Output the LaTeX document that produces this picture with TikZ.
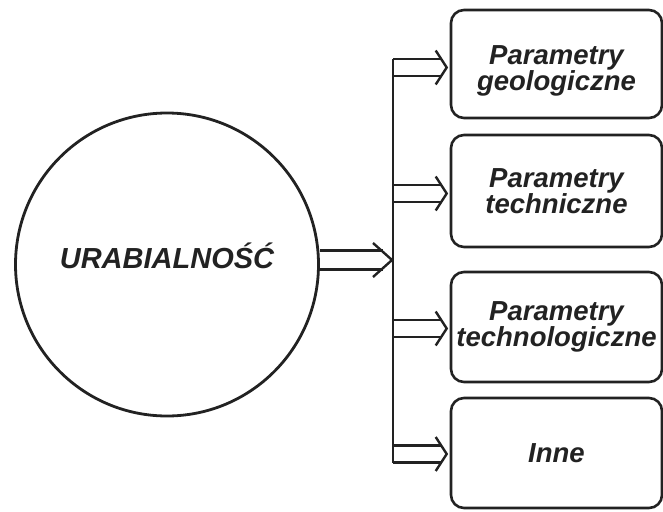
\documentclass[tikz,border=0pt]{standalone}
\usepackage{fontspec}
\setmainfont{Liberation Sans}
\usetikzlibrary{calc}
\definecolor{ink}{HTML}{222222}
\tikzset{
  x=1pt, y=-1pt,
  pbox/.style={draw=ink, line width=2.6pt, rounded corners=13pt, minimum width=211pt,
    align=center, inner sep=0pt, text=ink,
    font=\fontsize{27.5}{26}\selectfont\bfseries\itshape},
  conn/.style={draw=ink, line width=2.4pt, line join=miter},
}
\begin{document}
\begin{tikzpicture}
\useasboundingbox (0,0) rectangle (663,511);
% main circle
\node[draw=ink, line width=2.8pt, circle, minimum size=303pt, inner sep=0pt,
      text height=7pt, text depth=0pt,
      text=ink, font=\fontsize{29}{30}\selectfont\bfseries\itshape] (c) at (167,264.5) {URABIALNOŚĆ};
% boxes
\node[pbox, minimum height=108pt] (b1) at (556.5,64)
  {\rule{0pt}{33pt}Parametry\\geologiczne};
\node[pbox, minimum height=112pt] (b2) at (556.5,191) {Parametry\\techniczne};
\node[pbox, minimum height=110pt] (b3) at (556.5,327) {Parametry\\technologiczne};
\node[pbox, minimum height=110pt] (b4) at (556.5,453) {Inne};
% bus
\coordinate (bt) at (393,59);
\coordinate (bb) at (393,462.5);
\draw[conn] (bt) -- (bb);
% main hollow arrow
\draw[conn] (c.east |- 0,250.5) -- (383,250.5);
\draw[conn] (c.east |- 0,269.5) -- (383,269.5);
\draw[conn] (373,243) -- (392,260) -- (373,277);
% branch arrows
\foreach \b/\m in {b1/67.5, b2/193.5, b3/328.5, b4/454}{
  \draw[conn] (bt |- 0,\m-8.5) -- ($(\b.west |- 0,\m-8.5)+(-9,0)$);
  \draw[conn] (bt |- 0,\m+8.5) -- ($(\b.west |- 0,\m+8.5)+(-9,0)$);
  \draw[conn] ($(\b.west |- 0,\m-17)+(-14,0)$) -- ($(\b.west |- 0,\m)+(-3,0)$) -- ($(\b.west |- 0,\m+17)+(-14,0)$);
}
\end{tikzpicture}
\end{document}
